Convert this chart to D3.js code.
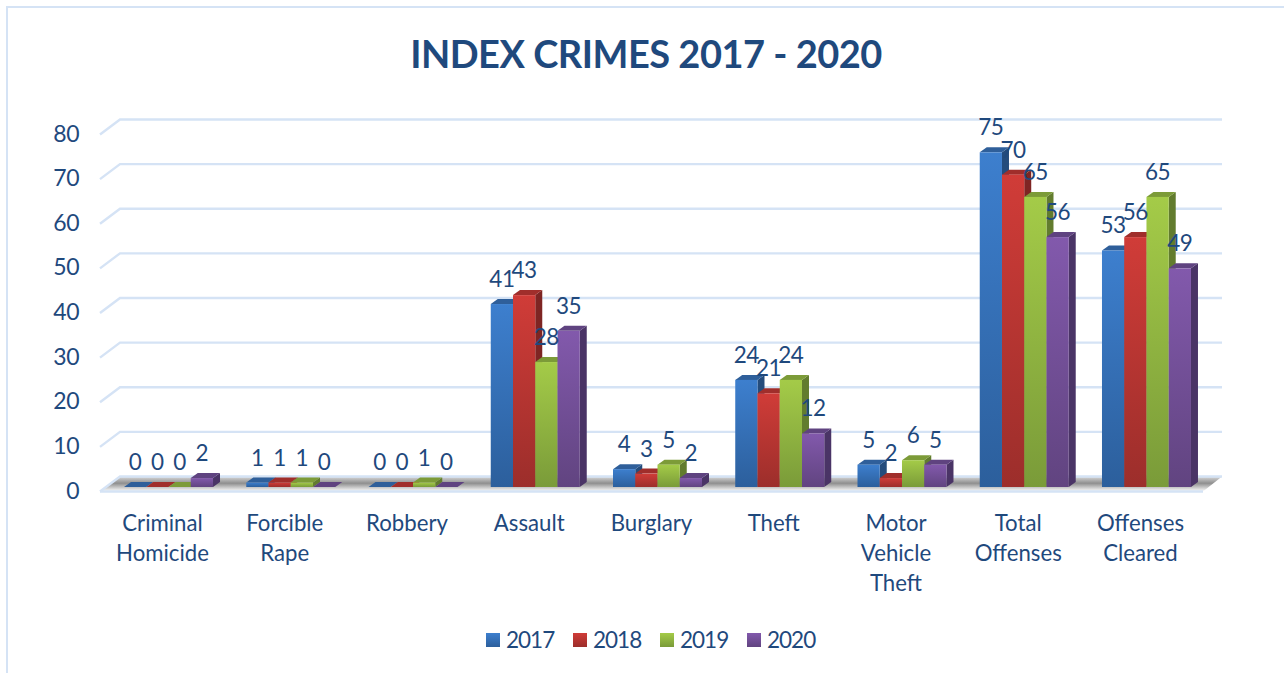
<!DOCTYPE html>
<html><head><meta charset="utf-8">
<script src="https://cdn.jsdelivr.net/npm/d3@7"></script>
<style>
html,body{margin:0;padding:0;background:#fff;overflow:hidden}
text{font-family:Lato,"Open Sans",sans-serif;fill:#1F497D}
</style></head><body>
<svg id="c" width="1284" height="673"></svg>
<script>
const categories=[["Criminal","Homicide"],["Forcible","Rape"],["Robbery"],["Assault"],["Burglary"],["Theft"],["Motor","Vehicle","Theft"],["Total","Offenses"],["Offenses","Cleared"]];
const years=["2017","2018","2019","2020"];
const v2017=[0,1,0,41,4,24,5,75,53];
const v2018=[0,1,0,43,3,21,2,70,56];
const v2019=[0,1,1,28,5,24,6,65,65];
const v2020=[2,0,0,35,2,12,5,56,49];
const seriesValues=[v2017,v2018,v2019,v2020];
const yTicks=[0,10,20,30,40,50,60,70,80];
const palette=[
 {top:"#3D7FCE",bot:"#2C5F9C",roof:"#2F5F9A",side:"#244C7C"},
 {top:"#D03C38",bot:"#9C2E2B",roof:"#A02E2B",side:"#7E2523"},
 {top:"#A4CB48",bot:"#7A9B39",roof:"#7C9B38",side:"#627C2E"},
 {top:"#8259AC",bot:"#614480",roof:"#5F4380",side:"#4A3466"}];
const svg=d3.select("#c");
const defs=svg.append("defs");
palette.forEach((p,i)=>{
  const g=defs.append("linearGradient").attr("id","g"+i).attr("x1",0).attr("y1",0).attr("x2",0).attr("y2",1);
  g.append("stop").attr("offset","0%").attr("stop-color",p.top);
  g.append("stop").attr("offset","100%").attr("stop-color",p.bot);
});
const fg=defs.append("linearGradient").attr("id","floor").attr("x1",0).attr("y1",0).attr("x2",0).attr("y2",1);
fg.append("stop").attr("offset","0%").attr("stop-color","#d8d8d8");
fg.append("stop").attr("offset","45%").attr("stop-color","#8f8f8f");
fg.append("stop").attr("offset","100%").attr("stop-color","#ffffff");

// chart frame
svg.append("path").attr("d","M7,673V7H1284").attr("fill","none").attr("stroke","#D5E3F5").attr("stroke-width",2);

const catIdx=categories.map((_,i)=>i);
const x=d3.scaleBand().domain(catIdx).range([107.4,1207.6]).paddingInner(0.272).paddingOuter(0.136);
const inner=d3.scaleBand().domain(d3.range(4)).range([0,x.bandwidth()]);
const y=d3.scaleLinear().domain([0,80]).range([487,130]);
const depthX=7,depthY=5;
const gridLeft=100,gridRight=1203,wallDX=20,frontDY=4.5,backDY=-10.5;

// floor
svg.append("path").attr("fill","url(#floor)")
 .attr("d",`M${gridLeft+wallDX},${y(0)+backDY}L${gridRight+wallDX-1},${y(0)+backDY}L${gridRight},${y(0)+frontDY}L${gridLeft},${y(0)+frontDY}Z`);
// gridlines
const gl=svg.append("g").attr("fill","none").attr("stroke","#D5E3F5").attr("stroke-width",2.4);
yTicks.forEach(t=>{
  gl.append("path").attr("d",`M${gridLeft},${y(t)+frontDY}L${gridLeft+wallDX},${y(t)+backDY}H${gridRight+wallDX-1}`);
});
gl.append("path").attr("d",`M${gridLeft},${y(0)+frontDY}H${gridRight}`);

// y axis labels
svg.append("g").selectAll("text").data(yTicks).join("text")
 .attr("x",79).attr("y",d=>y(d)+11.5).attr("text-anchor","end")
 .attr("font-size",23).attr("letter-spacing",-0.5).text(d=>d);

// bars
const bars=svg.append("g");
catIdx.forEach(ci=>{
  seriesValues.forEach((vals,si)=>{
    const v=vals[ci],p=palette[si];
    const x0=x(ci)+inner(si),w=inner.bandwidth(),yT=y(v),yB=y(0);
    const g=bars.append("g");
    g.append("path").attr("fill",p.side).attr("d",`M${x0+w},${yT}l${depthX},${-depthY}V${yB-depthY}l${-depthX},${depthY}Z`);
    g.append("path").attr("fill",p.roof).attr("d",`M${x0},${yT}l${depthX},${-depthY}h${w}l${-depthX},${depthY}Z`);
    if(v>0) g.append("rect").attr("x",x0).attr("y",yT).attr("width",w).attr("height",yB-yT).attr("fill",`url(#g${si})`);
  });
});
// data labels
const lab=svg.append("g");
catIdx.forEach(ci=>{
  seriesValues.forEach((vals,si)=>{
    lab.append("text").attr("x",x(ci)+inner(si)+inner.bandwidth()/2).attr("y",y(vals[ci])-17)
      .attr("text-anchor","middle").attr("font-size",22.5).attr("letter-spacing",-0.5).text(vals[ci]);
  });
});
// category labels
const cl=svg.append("g");
categories.forEach((lines,ci)=>{
  lines.forEach((s,li)=>{
    cl.append("text").attr("x",x(ci)+x.bandwidth()/2-6).attr("y",531+li*30)
     .attr("text-anchor","middle").attr("font-size",22.2).text(s);
  });
});
// title
svg.append("text").attr("x",646).attr("y",68).attr("text-anchor","middle")
 .attr("font-size",38).attr("letter-spacing",-0.5).attr("font-weight",700).text("INDEX CRIMES 2017 - 2020");
// legend
const lx=d3.scaleOrdinal().domain(years).range([486,573,660,747]);
const leg=svg.append("g");
years.forEach((yr,i)=>{
  leg.append("rect").attr("x",lx(yr)).attr("y",633).attr("width",14).attr("height",14).attr("fill",`url(#g${i})`);
  leg.append("text").attr("x",lx(yr)+20).attr("y",648).attr("font-size",22.5).attr("letter-spacing",-1).text(yr);
});
</script></body></html>
